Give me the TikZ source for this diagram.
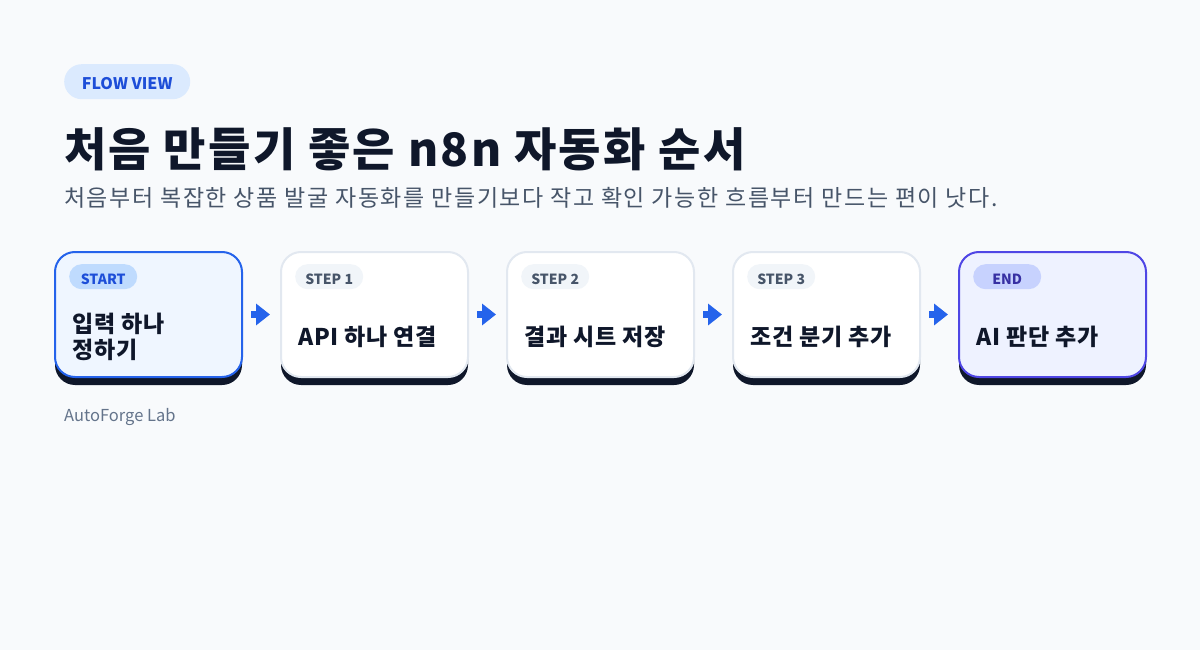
\documentclass[tikz,border=0pt]{standalone}
\usepackage{fontspec}
\setmainfont{Noto Sans CJK KR}
\usepackage{tikz}
\usetikzlibrary{arrows.meta, positioning, calc}

\definecolor{pagebg}{HTML}{F8FAFC}
\definecolor{ink}{HTML}{0F172A}
\definecolor{subink}{HTML}{475569}
\definecolor{mutedink}{HTML}{64748B}
\definecolor{flowblue}{HTML}{2563EB}
\definecolor{tagblue}{HTML}{DBEAFE}
\definecolor{tagbluetext}{HTML}{1D4ED8}
\definecolor{startfill}{HTML}{EFF6FF}
\definecolor{startpill}{HTML}{BFDBFE}
\definecolor{stepline}{HTML}{E2E8F0}
\definecolor{steppill}{HTML}{F1F5F9}
\definecolor{endline}{HTML}{4F46E5}
\definecolor{endfill}{HTML}{EEF2FF}
\definecolor{endpill}{HTML}{C7D2FE}
\definecolor{endtext}{HTML}{3730A3}

\tikzset{
  card/.style={rounded corners=20pt, minimum width=187pt, minimum height=125pt,
    inner sep=0pt, line width=2pt},
  cardshadow/.style={card, fill=ink, draw=none},
  pill/.style={rounded corners=12.5pt, minimum width=68pt, minimum height=25pt,
    inner sep=0pt, text height=15pt, text depth=0pt,
    font=\bfseries\fontsize{14}{16}\selectfont},
  cardlabel/.style={anchor=west, align=left, text=ink,
    font=\bfseries\fontsize{23}{26}\selectfont\addfontfeature{LetterSpace=3}},
  flowarrow/.style={draw=flowblue, line width=7pt,
    -{Triangle[length=14pt,width=21pt]}, shorten <=8pt, shorten >=10pt},
}

\begin{document}
\begin{tikzpicture}[x=1pt, y=-1pt]
        \useasboundingbox[fill=pagebg] (0,0) rectangle (1200,650);

        % header
        \node[pill, fill=tagblue, text=tagbluetext, minimum width=126pt, minimum height=35pt,
          rounded corners=17.5pt, font=\bfseries\fontsize{16}{18}\selectfont,
          anchor=north west] (tag) at (64,64) {FLOW VIEW};
        \node[anchor=base west, inner sep=0pt, text=ink,
          font=\bfseries\fontsize{46}{50}\selectfont\addfontfeature{LetterSpace=5}] (title) at (64,167)
          {처음 만들기 좋은 n8n 자동화 순서};
        \node[anchor=base west, inner sep=0pt, text=subink,
          font=\fontsize{23}{26}\selectfont\addfontfeature{LetterSpace=7}] (subtitle) at (64,207)
          {처음부터 복잡한 상품 발굴 자동화를 만들기보다 작고 확인 가능한 흐름부터 만드는 편이 낫다.};

        % shadows
        \foreach \i in {0,...,4}
          \node[cardshadow] at (148.5+226*\i, 322.5) {};

        % cards
        \node[card, fill=startfill, draw=flowblue] (s0) at (148.5,314.5) {};
        \node[card, fill=white, draw=stepline] (s1) at (374.5,314.5) {};
        \node[card, fill=white, draw=stepline] (s2) at (600.5,314.5) {};
        \node[card, fill=white, draw=stepline] (s3) at (826.5,314.5) {};
        \node[card, fill=endfill, draw=endline] (s4) at (1052.5,314.5) {};

        \node[pill, fill=startpill, text=tagbluetext, anchor=north west] (p0) at ($(s0.north west)+(15,13)$) {START};
        \node[pill, fill=steppill, text=subink, anchor=north west] (p1) at ($(s1.north west)+(15,13)$) {STEP 1};
        \node[pill, fill=steppill, text=subink, anchor=north west] (p2) at ($(s2.north west)+(15,13)$) {STEP 2};
        \node[pill, fill=steppill, text=subink, anchor=north west] (p3) at ($(s3.north west)+(15,13)$) {STEP 3};
        \node[pill, fill=endpill, text=endtext, anchor=north west] (p4) at ($(s4.north west)+(15,13)$) {END};

        \node[cardlabel] (l0) at ($(s0.west)+(15,22)$) {입력 하나\\정하기};
        \node[cardlabel] (l1) at ($(s1.west)+(15,22)$) {API 하나 연결};
        \node[cardlabel] (l2) at ($(s2.west)+(15,22)$) {결과 시트 저장};
        \node[cardlabel] (l3) at ($(s3.west)+(15,22)$) {조건 분기 추가};
        \node[cardlabel] (l4) at ($(s4.west)+(15,22)$) {AI 판단 추가};

        % arrows
        \draw[flowarrow] (s0) -- (s1);
        \draw[flowarrow] (s1) -- (s2);
        \draw[flowarrow] (s2) -- (s3);
        \draw[flowarrow] (s3) -- (s4);

        \node[anchor=base west, inner sep=0pt, text=mutedink,
          font=\fontsize{16.5}{18}\selectfont] (brand) at (64,421) {AutoForge Lab};
    \end{tikzpicture}
\end{document}
